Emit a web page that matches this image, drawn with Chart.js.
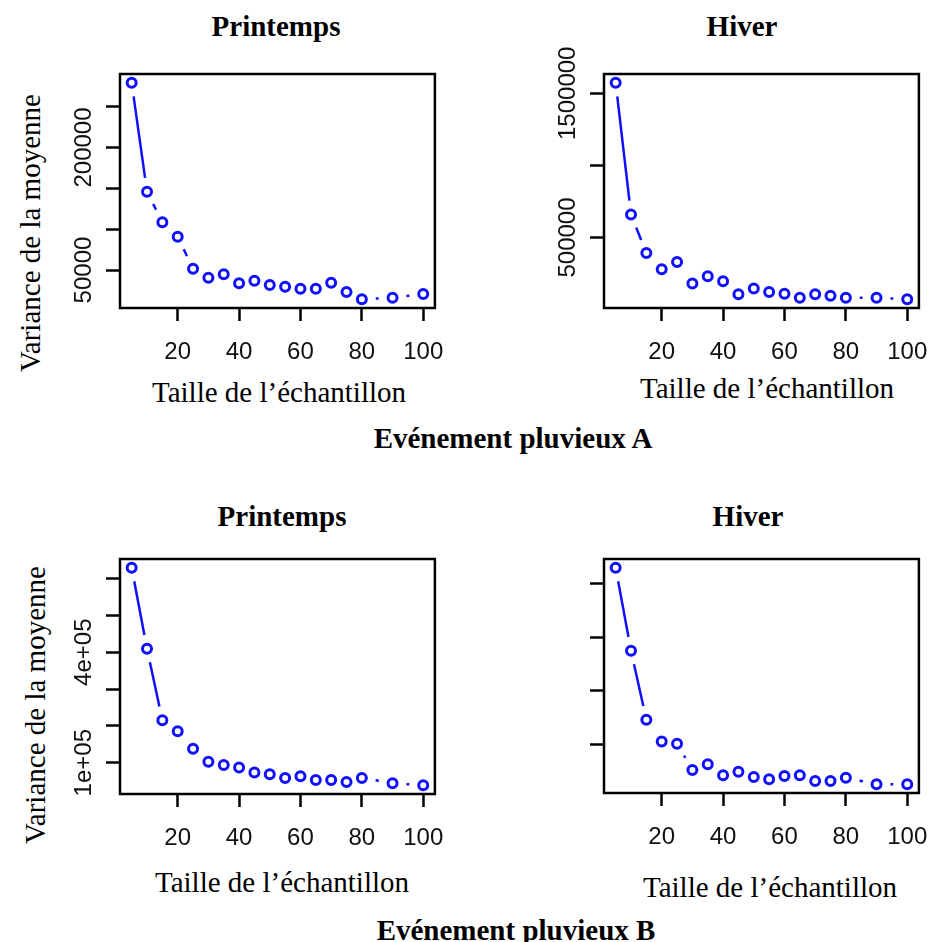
<!DOCTYPE html>
<html lang="fr">
<head>
<meta charset="utf-8">
<title>Variance de la moyenne</title>
<script src="https://cdn.jsdelivr.net/npm/chart.js@4.4.1/dist/chart.umd.min.js"></script>
<style>
  html, body { margin: 0; padding: 0; background: #fff; overflow: hidden; }
  #page { position: relative; width: 930px; height: 942px; }
  canvas { position: absolute; }
  .lbl {
    position: absolute; white-space: nowrap; line-height: 1; color: #000;
    font-family: "Liberation Serif", "Times New Roman", serif; font-size: 29px;
    transform: translate(-50%, -50%);
  }
  .bold { font-weight: bold; }
  .rot { transform: translate(-50%, -50%) rotate(-90deg); }
</style>
</head>
<body>
<div id="page">
  <div class="lbl bold" style="left:276px; top:26px">Printemps</div>
  <div class="lbl bold" style="left:742px; top:26px">Hiver</div>
  <div class="lbl rot" style="left:30px; top:233px">Variance de la moyenne</div>
  <div class="lbl" style="left:279px; top:392px">Taille de l’échantillon</div>
  <div class="lbl" style="left:767px; top:388px">Taille de l’échantillon</div>
  <div class="lbl bold" style="left:513px; top:438px">Evénement pluvieux A</div>

  <div class="lbl bold" style="left:282px; top:516px">Printemps</div>
  <div class="lbl bold" style="left:748px; top:516px">Hiver</div>
  <div class="lbl rot" style="left:35px; top:705px">Variance de la moyenne</div>
  <div class="lbl" style="left:282px; top:882px">Taille de l’échantillon</div>
  <div class="lbl" style="left:770px; top:887px">Taille de l’échantillon</div>
  <div class="lbl bold" style="left:516px; top:930px">Evénement pluvieux B</div>

  <canvas id="chartA"></canvas>
  <canvas id="chartB"></canvas>
  <canvas id="chartC"></canvas>
  <canvas id="chartD"></canvas>
</div>

<script>
// sample sizes (x) and the variance of the mean for each panel
const sampleSizes = [5, 10, 15, 20, 25, 30, 35, 40, 45, 50, 55, 60, 65, 70, 75, 80, 90, 100];
const springA = [279400, 145900, 108400, 90800, 51600, 40600, 44700, 33700, 36900, 31600, 29600, 27100, 27100, 34400, 23100, 14100, 16100, 20600];
const winterA = [1573600, 659700, 393000, 280000, 330600, 180500, 231000, 196500, 106000, 145800, 122200, 111000, 83000, 106000, 97000, 83000, 83000, 71500];
const springB = [629400, 409600, 215400, 185200, 137600, 102700, 93700, 87100, 73400, 68900, 58800, 63400, 53300, 53300, 47800, 58800, 44200, 38700];
const winterB = [430200, 275000, 145600, 104900, 101100, 51800, 62500, 41800, 48600, 38600, 34300, 40500, 41800, 31100, 31100, 37300, 25000, 25000];

// ticks
const xTicks = [20, 40, 60, 80, 100];
const yTicksA = [50000, 100000, 150000, 200000, 250000];
const yTicksB = [500000, 1000000, 1500000];
const yTicksC = [100000, 200000, 300000, 400000, 500000, 600000];
const yTicksD = [100000, 200000, 300000, 400000];

// only some of the y ticks carry a label
const yLabelValuesA = [50000, 200000];
const yLabelTextA = ['50000', '200000'];
const yLabelValuesB = [500000, 1500000];
const yLabelTextB = ['500000', '1500000'];
const yLabelValuesC = [100000, 400000];
const yLabelTextC = ['1e+05', '4e+05'];
const yLabelValuesD = [];
const yLabelTextD = [];

const BLUE = '#1010ff';
const TICK_FONT = '"Liberation Sans", Arial, sans-serif';
const TICK_SIZE = 24;

// R-like 4% axis extension
function rRange(vals) {
    const lo = Math.min(...vals), hi = Math.max(...vals);
    const pad = (hi - lo) * 0.04;
    return [lo - pad, hi + pad];
}

// box round the plotting region
const framePlugin = {
    id: 'frame',
    afterDatasetsDraw(chart) {
        const a = chart.chartArea, ctx = chart.ctx;
        ctx.save();
        ctx.strokeStyle = '#000';
        ctx.lineWidth = 2.5;
        ctx.strokeRect(a.left, a.top, a.right - a.left, a.bottom - a.top);
        ctx.restore();
    }
};

// rotated y tick labels, as R draws them
const yLabelPlugin = {
    id: 'yLabels',
    afterDraw(chart, args, opts) {
        const ys = chart.scales.y, ctx = chart.ctx;
        ctx.save();
        ctx.font = TICK_SIZE + 'px ' + TICK_FONT;
        ctx.fillStyle = '#111';
        ctx.textAlign = 'center';
        ctx.textBaseline = 'alphabetic';
        (opts.values || []).forEach((v, i) => {
            ctx.save();
            ctx.translate(chart.chartArea.left - 29, ys.getPixelForValue(v));
            ctx.rotate(-Math.PI / 2);
            ctx.fillText(opts.labels[i], 0, 0);
            ctx.restore();
        });
        ctx.restore();
    }
};

function makePanel(id, plot, values, yTicks, labelValues, labelText) {
    const AXW = 60, AXH = 60, TOP = 30, RIGHT = 20;
    const canvas = document.getElementById(id);
    canvas.width = AXW + plot.w + RIGHT;
    canvas.height = TOP + plot.h + AXH;
    canvas.style.left = (plot.left - AXW) + 'px';
    canvas.style.top = (plot.top - TOP) + 'px';

    const pts = sampleSizes.map((x, i) => ({ x: x, y: values[i] }));
    const [xMin, xMax] = rRange(sampleSizes);
    const [yMin, yMax] = rRange(values);

    return new Chart(canvas.getContext('2d'), {
        type: 'line',
        data: {
            datasets: [{
                // connecting line
                data: pts, borderColor: BLUE, borderWidth: 2.5, tension: 0,
                pointRadius: 0, order: 3, clip: 0
            }, {
                // white gaps round the points (type = "b")
                data: pts, showLine: false, pointRadius: 14, pointBorderWidth: 0,
                pointBackgroundColor: '#fff', pointBorderColor: '#fff', order: 2, clip: 0
            }, {
                // open circles
                data: pts, showLine: false, pointRadius: 4.5, pointBorderWidth: 3,
                pointBorderColor: BLUE, pointBackgroundColor: '#fff', order: 1
            }]
        },
        options: {
            responsive: false,
            animation: false,
            events: [],
            layout: { padding: { left: 0, top: TOP, right: RIGHT, bottom: 0 } },
            plugins: {
                legend: { display: false },
                tooltip: { enabled: false },
                yLabels: { values: labelValues, labels: labelText }
            },
            scales: {
                x: {
                    type: 'linear', min: xMin, max: xMax,
                    afterBuildTicks: (s) => { s.ticks = xTicks.map(v => ({ value: v })); },
                    afterFit: (s) => { s.height = AXH; },
                    border: { display: false },
                    grid: { drawOnChartArea: false, drawTicks: true, tickLength: 13, tickWidth: 2.5, tickColor: '#000' },
                    ticks: { color: '#111', padding: 17, maxRotation: 0, autoSkip: false,
                             font: { family: TICK_FONT, size: TICK_SIZE } }
                },
                y: {
                    type: 'linear', min: yMin, max: yMax,
                    afterBuildTicks: (s) => { s.ticks = yTicks.map(v => ({ value: v })); },
                    afterFit: (s) => { s.width = AXW; },
                    border: { display: false },
                    grid: { drawOnChartArea: false, drawTicks: true, tickLength: 14, tickWidth: 2.5, tickColor: '#000' },
                    ticks: { display: false }
                }
            }
        },
        plugins: [framePlugin, yLabelPlugin]
    });
}

makePanel('chartA', { left: 120, top: 74, w: 321, h: 234 }, springA, yTicksA, yLabelValuesA, yLabelTextA);
makePanel('chartB', { left: 604, top: 74, w: 321, h: 234 }, winterA, yTicksB, yLabelValuesB, yLabelTextB);
makePanel('chartC', { left: 120, top: 559, w: 321, h: 235 }, springB, yTicksC, yLabelValuesC, yLabelTextC);
makePanel('chartD', { left: 604, top: 559, w: 321, h: 234 }, winterB, yTicksD, yLabelValuesD, yLabelTextD);
</script>
</body>
</html>
